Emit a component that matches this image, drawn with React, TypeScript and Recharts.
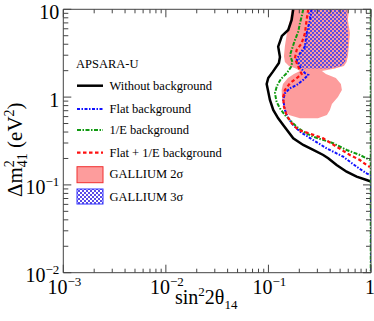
import React from 'react';
import { ComposedChart, Line, Area, XAxis, YAxis } from 'recharts';

// ---- tick values ----
const xTicks = [0.001, 0.002, 0.003, 0.004, 0.005, 0.006, 0.007, 0.008, 0.009, 0.01, 0.02, 0.03, 0.04, 0.05, 0.06, 0.07, 0.08, 0.09, 0.1, 0.2, 0.3, 0.4, 0.5, 0.6, 0.7, 0.8, 0.9, 1];
const yTicks = [0.01, 0.02, 0.03, 0.04, 0.05, 0.06, 0.07, 0.08, 0.09, 0.1, 0.2, 0.3, 0.4, 0.5, 0.6, 0.7, 0.8, 0.9, 1, 2, 3, 4, 5, 6, 7, 8, 9, 10];
const xMajor = [0.001, 0.01, 0.1, 1];
const xMajorBase = ['10', '10', '10', '1'];
const xMajorSup = ['\u22123', '\u22122', '\u22121', ''];
const yMajor = [0.01, 0.1, 1, 10];
const yMajorBase = ['10', '10', '1', '10'];
const yMajorSup = ['\u22122', '\u22121', '', ''];

// ---- Without background (black) ----
const blackDm = [10, 7.55, 5.81, 4.97, 3.75, 2.86, 2.45, 1.95, 1.65, 1.41, 1.152, 0.927, 0.713, 0.574, 0.469, 0.339, 0.285, 0.25, 0.219, 0.201, 0.1685, 0.1413, 0.124, 0.1137, 0.1093];
const blackX = [0.1745, 0.1684, 0.156, 0.1354, 0.1245, 0.1295, 0.1265, 0.1106, 0.0996, 0.0961, 0.0996, 0.1034, 0.1114, 0.1245, 0.1416, 0.1745, 0.2184, 0.2733, 0.3421, 0.3827, 0.4621, 0.5783, 0.724, 0.906, 1.0];

// ---- Flat background (blue) ----
const blueDm = [10, 7.55, 5.33, 3.75, 3.15, 2.65, 2.22, 1.87, 1.79, 1.57, 1.37, 1.26, 1.105, 0.927, 0.713, 0.573, 0.481, 0.404, 0.324, 0.261, 0.2095, 0.161, 0.1355, 0.13, 0.128, 0.01];
const blueX = [0.2636, 0.2538, 0.2357, 0.227, 0.2028, 0.1884, 0.2028, 0.227, 0.2443, 0.218, 0.1884, 0.1621, 0.1448, 0.1394, 0.1448, 0.156, 0.1745, 0.2028, 0.2733, 0.3693, 0.536, 0.724, 0.906, 0.9757, 1.0, 1.0];

// ---- 1/E background (green) ----
const greenDm = [10, 8.23, 6.93, 5.56, 4.47, 3.44, 3.02, 2.51, 2.2, 1.88, 1.61, 1.34, 1.11, 0.88, 0.745, 0.625, 0.548, 0.46, 0.404, 0.354, 0.298, 0.25, 0.219, 0.201, 0.192];
const greenX = [0.2184, 0.2107, 0.2028, 0.1952, 0.1813, 0.1684, 0.1621, 0.1714, 0.1657, 0.1514, 0.1324, 0.121, 0.1157, 0.1202, 0.1295, 0.1448, 0.1621, 0.1884, 0.2184, 0.2733, 0.4282, 0.5783, 0.7796, 0.906, 0.9757];
const greenEdgeDm = [10, 0.01];
const greenEdgeX = [1, 1];

// ---- Flat + 1/E background (red) ----
const redDm = [10, 7.55, 5.33, 4.1, 3.44, 2.77, 2.22, 1.83, 1.64, 1.44, 1.205, 1.01, 0.777, 0.625, 0.503, 0.422, 0.39, 0.339, 0.272, 0.219, 0.192, 0.1685, 0.16];
const redX = [0.2443, 0.2357, 0.2269, 0.2107, 0.1884, 0.1813, 0.1952, 0.2107, 0.1884, 0.1621, 0.1448, 0.1394, 0.1416, 0.1504, 0.1684, 0.1952, 0.2443, 0.3421, 0.4621, 0.6227, 0.7796, 0.906, 0.9757];

// ---- GALLIUM 2 sigma region ----
const pinkDm = [10, 7.55, 5.37, 3.82, 2.94, 2.51, 2.26, 2.12, 1.98, 1.83, 1.65, 1.41, 1.205, 1.0, 0.834, 0.713, 0.625, 0.574];
const pinkLo = [0.1684, 0.1621, 0.1514, 0.1448, 0.1416, 0.1448, 0.1584, 0.1854, 0.2028, 0.1772, 0.1549, 0.1385, 0.1345, 0.1354, 0.1385, 0.1448, 0.1584, 0.2028];
const pinkHi = [0.609, 0.5955, 0.6227, 0.609, 0.5955, 0.5783, 0.5444, 0.4446, 0.3322, 0.3635, 0.4548, 0.5088, 0.5204, 0.4758, 0.4159, 0.3976, 0.3717, 0.3038];

// ---- GALLIUM 3 sigma region ----
const hatchDm = [10, 7.55, 5.37, 3.82, 3.02, 2.51, 2.26, 2.12];
const hatchLo = [0.2357, 0.2538, 0.2357, 0.2218, 0.2028, 0.1897, 0.1984, 0.2269];
const hatchHi = [0.5783, 0.5822, 0.5955, 0.5955, 0.5822, 0.5567, 0.5088, 0.3976];

const line = (dm: number[], xs: number[]) => dm.map((d, i) => ({ dm: d, x: xs[i] }));
const band = (dm: number[], lo: number[], hi: number[]) => dm.map((d, i) => ({ dm: d, r: [lo[i], hi[i]] }));

const blackData = line(blackDm, blackX);
const blueData = line(blueDm, blueX);
const greenData = line(greenDm, greenX);
const greenEdgeData = line(greenEdgeDm, greenEdgeX);
const redData = line(redDm, redX);
const pinkData = band(pinkDm, pinkLo, pinkHi);
const hatchData = band(hatchDm, hatchLo, hatchHi);

const FONT = "'Liberation Serif', 'Times New Roman', serif";
const AX = '#444';
const BLUE = '#1010ff';
const GREEN = '#109a10';
const RED = '#ff1010';
const PINK = '#fd9c9c';
const HATCHBLUE = '#5a4ce6';

const majorIndex = (v: number, majors: number[]) => majors.findIndex((m) => Math.abs(Math.log10(v) - Math.log10(m)) < 1e-6);

const BottomTick = (p: any) => {
  const { x, y, payload } = p;
  const idx = majorIndex(payload.value, xMajor);
  const len = idx >= 0 ? 8 : 4;
  const sup = idx >= 0 ? xMajorSup[idx] : '';
  return (
    <g>
      <line x1={x} y1={y} x2={x} y2={y - len} stroke={AX} strokeWidth={1} />
      {idx >= 0 && (
        <text x={x + (sup ? 1 : -1)} y={y + 21} textAnchor="middle" fontFamily={FONT} fontSize={20} fill="#000">
          <tspan>{xMajorBase[idx]}</tspan>
          {sup && (
            <tspan dy={-8} fontSize={13}>
              {sup}
            </tspan>
          )}
        </text>
      )}
    </g>
  );
};

const TopTick = (p: any) => {
  const { x, y, payload } = p;
  const idx = majorIndex(payload.value, xMajor);
  const len = idx >= 0 ? 8 : 4;
  return <line x1={x} y1={y} x2={x} y2={y + len} stroke={AX} strokeWidth={1} />;
};

const LeftTick = (p: any) => {
  const { x, y, payload } = p;
  const idx = majorIndex(payload.value, yMajor);
  const len = idx >= 0 ? 8 : 5;
  return (
    <g>
      <line x1={x} y1={y} x2={x + len} y2={y} stroke={AX} strokeWidth={1} />
      {idx >= 0 && (
        <text x={x - 4} y={y + 9.5} textAnchor="end" fontFamily={FONT} fontSize={20} fill="#000">
          <tspan>{yMajorBase[idx]}</tspan>
          {yMajorSup[idx] && (
            <tspan dy={-8} fontSize={13}>
              {yMajorSup[idx]}
            </tspan>
          )}
        </text>
      )}
    </g>
  );
};

const RightTick = (p: any) => {
  const { x, y, payload } = p;
  const idx = majorIndex(payload.value, yMajor);
  const len = idx >= 0 ? 8 : 5;
  return <line x1={x} y1={y} x2={x - len} y2={y} stroke={AX} strokeWidth={1} />;
};

const W = 374;
const H = 321;

const legendRows = [
  { label: 'Without background', stroke: '#000', dash: undefined as string | undefined, width: 2.5 },
  { label: 'Flat background', stroke: BLUE, dash: '3 1.5 1.5 1.5', width: 2 },
  { label: '1/E background', stroke: GREEN, dash: '4 1.5 1.5 1.5', width: 2 },
  { label: 'Flat + 1/E background', stroke: RED, dash: '3.5 2.5', width: 2.2 },
];
const legendRowY = [85.7, 109, 130, 152.7];

export default function App() {
  return (
    <div style={{ position: 'absolute', left: 0, top: 0, width: W, height: H }}>
      <style>{'svg { overflow: visible; }'}</style>
      <ComposedChart
        width={W}
        height={H}
        layout="vertical"
        margin={{ top: 8.3, right: 2, bottom: 0, left: 0 }}
      >
        <defs>
          <pattern id="hatch3s" width={4} height={4} patternUnits="userSpaceOnUse">
            <rect x={0} y={0} width={2} height={2} fill={HATCHBLUE} />
            <rect x={2} y={2} width={2} height={2} fill={HATCHBLUE} />
          </pattern>
        </defs>
        <XAxis
          xAxisId="b"
          orientation="bottom"
          type="number"
          scale="log"
          domain={[0.001, 1]}
          allowDataOverflow
          ticks={xTicks}
          interval={0}
          tickSize={0}
          tickMargin={0}
          tickLine={false}
          height={48.3}
          axisLine={{ stroke: AX }}
          tick={(p: any) => <BottomTick {...p} />}
        />
        <XAxis
          xAxisId="t"
          orientation="top"
          type="number"
          scale="log"
          domain={[0.001, 1]}
          allowDataOverflow
          ticks={xTicks}
          interval={0}
          tickSize={0}
          tickMargin={0}
          tickLine={false}
          height={1}
          axisLine={{ stroke: AX }}
          tick={(p: any) => <TopTick {...p} />}
        />
        <YAxis
          yAxisId="l"
          orientation="left"
          type="number"
          dataKey="dm"
          scale="log"
          domain={[0.01, 10]}
          allowDataOverflow
          reversed
          ticks={yTicks}
          interval={0}
          tickSize={0}
          tickMargin={0}
          tickLine={false}
          width={63.3}
          axisLine={{ stroke: AX }}
          tick={(p: any) => <LeftTick {...p} />}
        />
        <YAxis
          yAxisId="r"
          orientation="right"
          type="number"
          dataKey="dm"
          scale="log"
          domain={[0.01, 10]}
          allowDataOverflow
          reversed
          ticks={yTicks}
          interval={0}
          tickSize={0}
          tickMargin={0}
          tickLine={false}
          width={1}
          axisLine={{ stroke: AX }}
          tick={(p: any) => <RightTick {...p} />}
        />
        <Area
          xAxisId="b"
          yAxisId="l"
          data={pinkData}
          dataKey="r"
          type="linear"
          stroke="none"
          fill={PINK}
          fillOpacity={1}
          dot={false}
          activeDot={false}
          isAnimationActive={false}
        />
        <Area
          xAxisId="b"
          yAxisId="l"
          data={hatchData}
          dataKey="r"
          type="linear"
          stroke="none"
          fill="url(#hatch3s)"
          fillOpacity={1}
          dot={false}
          activeDot={false}
          isAnimationActive={false}
        />
        <Line xAxisId="b" yAxisId="l" data={blackData} dataKey="x" type="linear" stroke="#000" strokeWidth={2.5} dot={false} activeDot={false} isAnimationActive={false} />
        <Line xAxisId="b" yAxisId="l" data={blueData} dataKey="x" type="linear" stroke={BLUE} strokeWidth={2} strokeDasharray="3 1.5 1.5 1.5" dot={false} activeDot={false} isAnimationActive={false} />
        <Line xAxisId="b" yAxisId="l" data={greenEdgeData} dataKey="x" type="linear" stroke={GREEN} strokeWidth={2.5} strokeDasharray="4 1.5 1.5 1.5" dot={false} activeDot={false} isAnimationActive={false} />
        <Line xAxisId="b" yAxisId="l" data={greenData} dataKey="x" type="linear" stroke={GREEN} strokeWidth={2} strokeDasharray="4 1.5 1.5 1.5" dot={false} activeDot={false} isAnimationActive={false} />
        <Line xAxisId="b" yAxisId="l" data={redData} dataKey="x" type="linear" stroke={RED} strokeWidth={2.2} strokeDasharray="3.5 2.5" dot={false} activeDot={false} isAnimationActive={false} />
      </ComposedChart>
      <svg width={W} height={H} style={{ position: 'absolute', left: 0, top: 0, pointerEvents: 'none' }}>
        <defs>
          <pattern id="hatch3sLeg" width={4} height={4} patternUnits="userSpaceOnUse">
            <rect x={0} y={0} width={2} height={2} fill={HATCHBLUE} />
            <rect x={2} y={2} width={2} height={2} fill={HATCHBLUE} />
          </pattern>
        </defs>
        <g fontFamily={FONT} fill="#000">
          <text x={76} y={68.3} fontSize={12.5}>APSARA-U</text>
          {legendRows.map((r, i) => (
            <g key={r.label}>
              <line x1={77} x2={103} y1={legendRowY[i]} y2={legendRowY[i]} stroke={r.stroke} strokeWidth={r.width} strokeDasharray={r.dash} />
              <text x={109.5} y={legendRowY[i] + 4.3} fontSize={12.5}>{r.label}</text>
            </g>
          ))}
          <rect x={77} y={166.7} width={26} height={16} fill={PINK} stroke="#f03030" strokeWidth={1} />
          <text x={109.5} y={178.3} fontSize={12.5}>GALLIUM 2σ</text>
          <rect x={77} y={189} width={26} height={15} fill="url(#hatch3sLeg)" stroke="#3030ff" strokeWidth={1} />
          <text x={109.5} y={200.7} fontSize={12.5}>GALLIUM 3σ</text>

          <text x={175} y={304} fontSize={20}>
            <tspan>sin</tspan>
            <tspan dy={-8} fontSize={13}>2</tspan>
            <tspan dy={8}>2θ</tspan>
            <tspan dy={5} fontSize={13}>14</tspan>
          </text>

          <text x={22} y={197} fontSize={21} transform="rotate(-90 22 197)">
            <tspan>Δm</tspan>
            <tspan dy={-8} fontSize={14}>2</tspan>
            <tspan dx={-7} dy={13} fontSize={14}>41</tspan>
            <tspan dy={-5}> (eV</tspan>
            <tspan dy={-8} fontSize={14}>2</tspan>
            <tspan dy={8}>)</tspan>
          </text>
        </g>
      </svg>
    </div>
  );
}
